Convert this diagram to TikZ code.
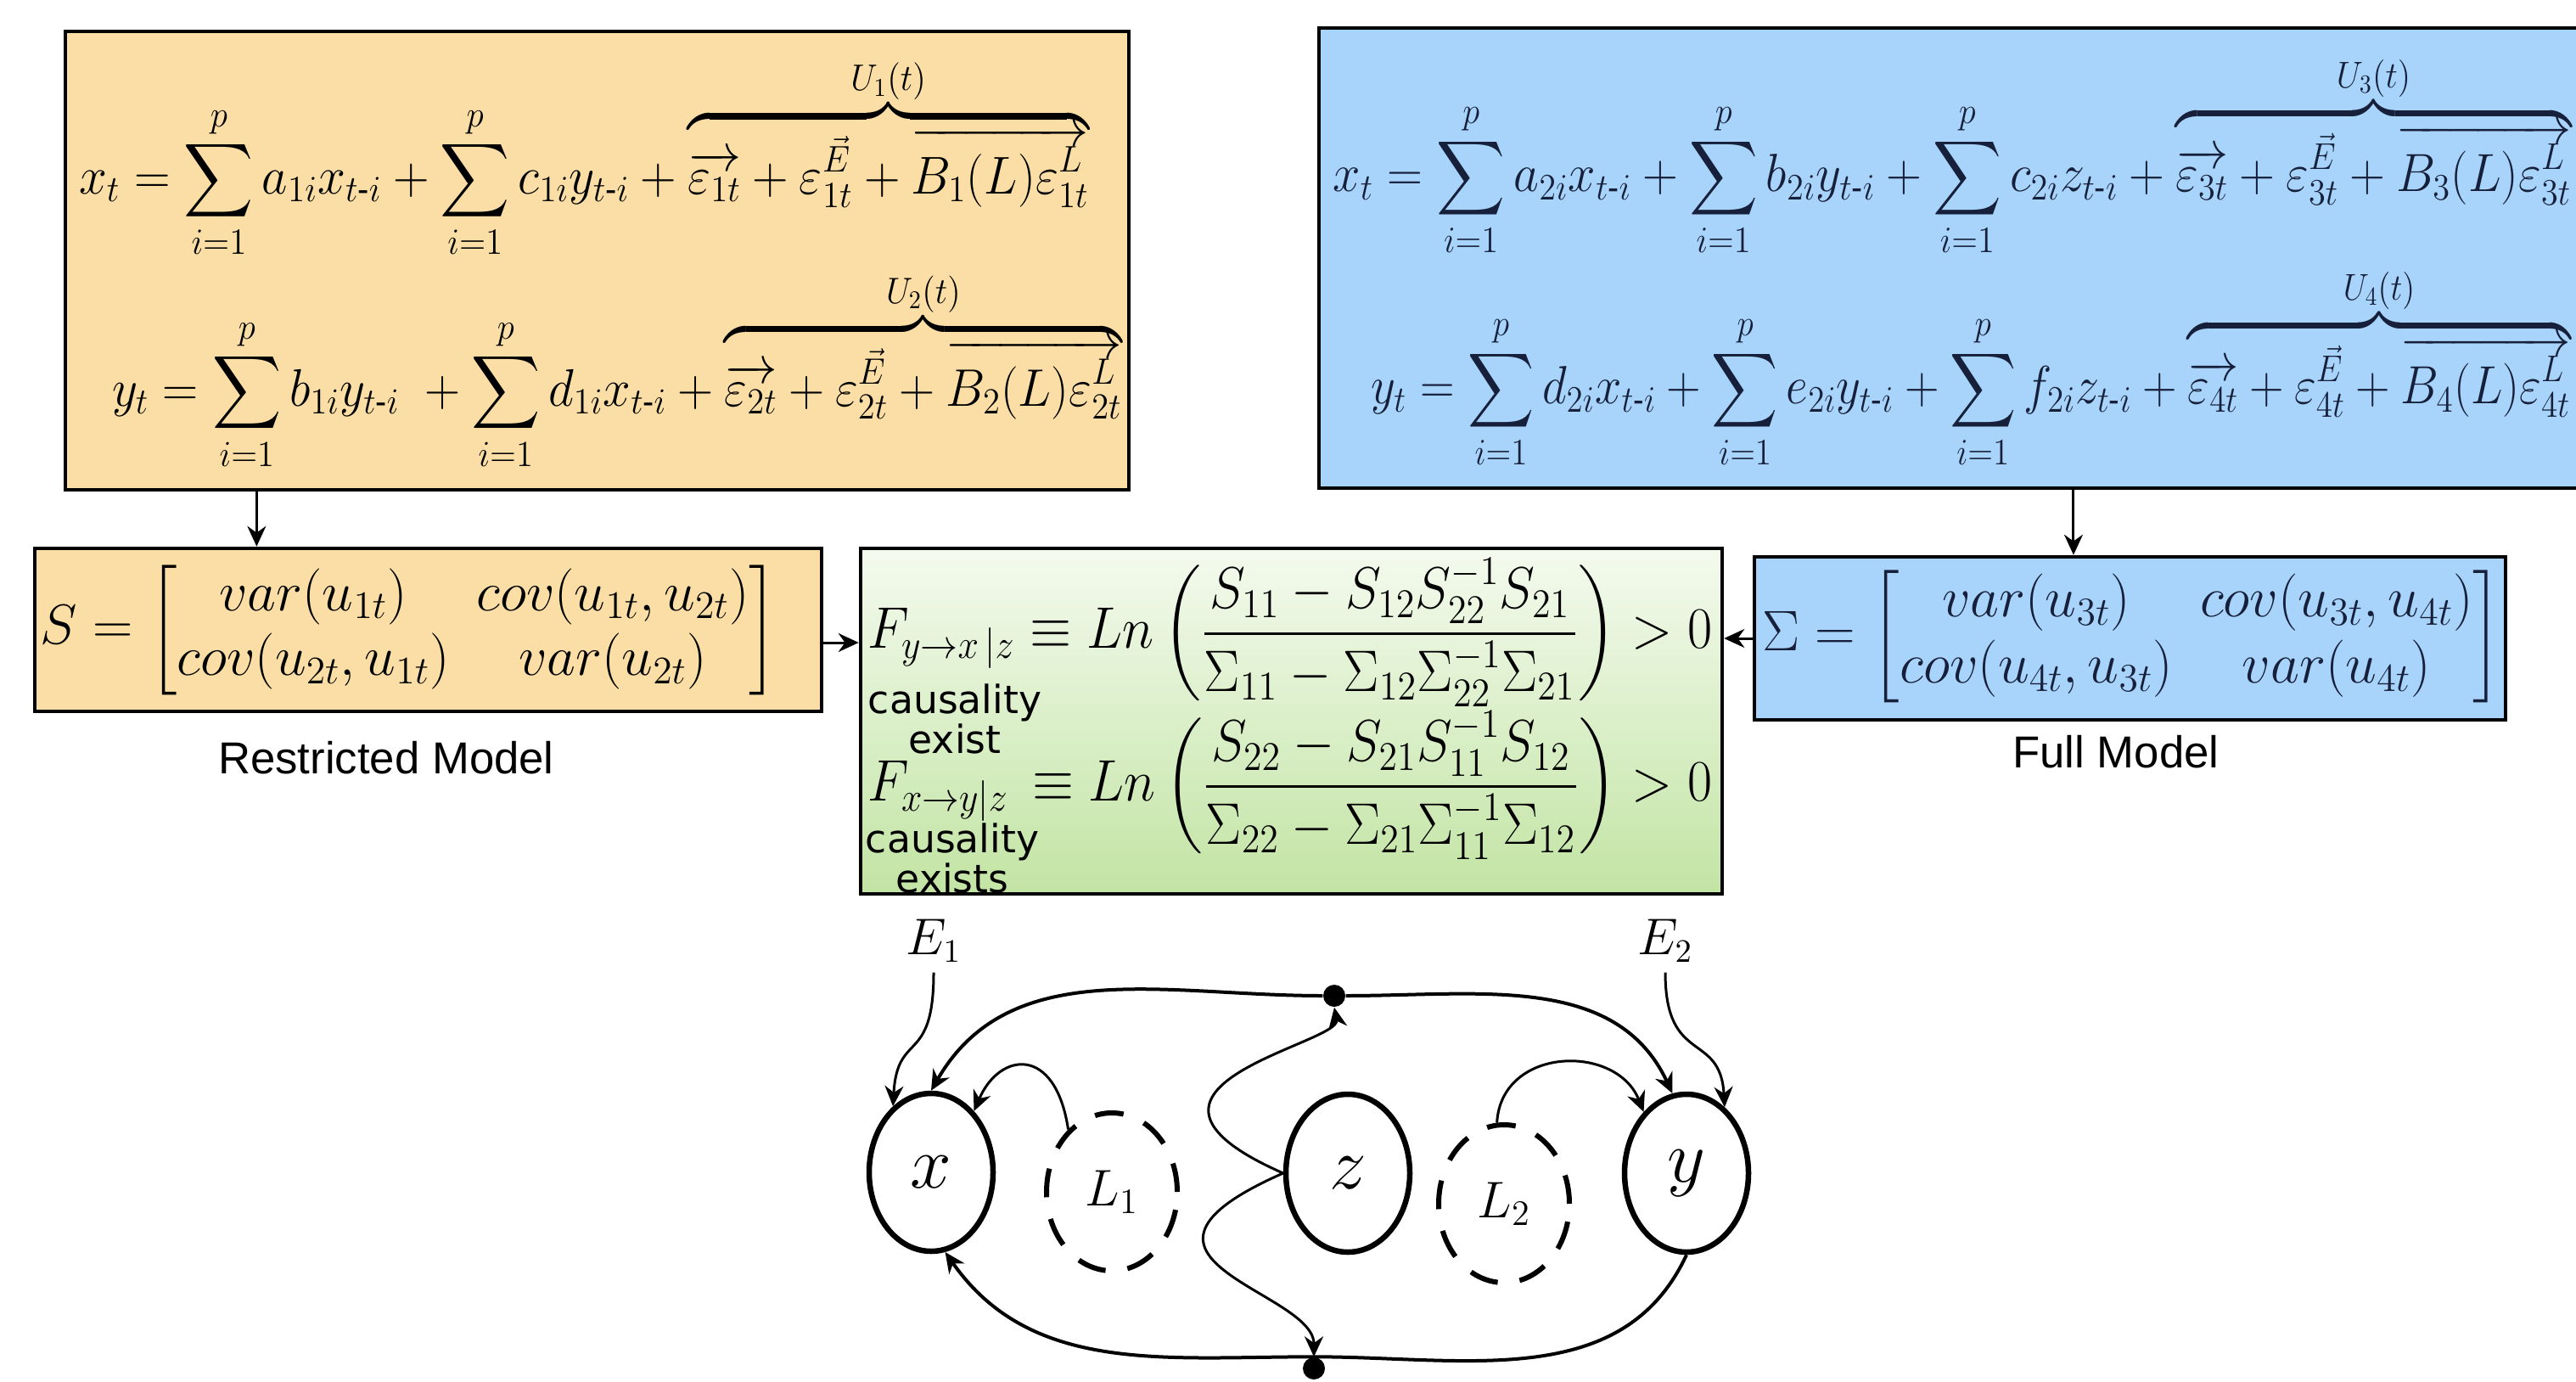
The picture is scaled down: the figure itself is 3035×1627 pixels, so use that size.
\documentclass[tikz,border=0pt]{standalone}
\usepackage{amsmath}
\usepackage{amssymb}
\usepackage{graphicx}
\usepackage[no-math]{fontspec}
\setmainfont{Liberation Sans}
\newfontfamily\labelfont{DejaVu Sans}
\usepackage{tikz}
\usetikzlibrary{
    positioning,
    shapes,
    arrows.meta,
    calc
}
\definecolor{restrictfill}{RGB}{251,222,165}
\definecolor{fullfill}{RGB}{168,211,250}
\definecolor{grangertop}{RGB}{244,250,238}
\definecolor{grangerbot}{RGB}{194,228,164}
\definecolor{fullink}{RGB}{22,32,58}
\tikzset{
    > = {Stealth[length=2.4mm, width=2.2mm]},
    modelbox/.style = {draw=black, line width=0.45mm, inner sep=0pt},
    eqnode/.style = {inner sep=0pt, font=\fontsize{20}{24}\selectfont},
    varnode/.style = {draw, ellipse, line width=0.65mm, inner sep=0pt,
        minimum width=14.6mm, minimum height=18.6mm, font=\fontsize{28}{28}\selectfont},
    latentnode/.style = {draw, ellipse, line width=0.6mm, inner sep=0pt,
        dash pattern=on 3.4mm off 2.6mm,
        minimum width=15.4mm, minimum height=18.6mm, font=\fontsize{17}{17}\selectfont},
    junction/.style = {circle, fill=black, inner sep=0pt, minimum size=2.6mm},
    link/.style = {->, line width=0.3mm},
    arc/.style = {line width=0.4mm},
}
\newcommand{\fitmath}[3]{\resizebox*{#1}{#2}{$\displaystyle #3$}}
\newcommand{\tlag}{t\text{-}i}

\begin{document}
\begin{tikzpicture}[x=0.1mm, y=-0.1mm]
\useasboundingbox (0,0) rectangle (3035,1627);
\clip (0,0) rectangle (3035,1627);
\fill[white] (0,0) rectangle (3035,1627);

% restricted model
\node[modelbox, fill=restrictfill, minimum width=125.3mm, minimum height=54mm] (restrictbox) at (703.5,307) {};
\node[eqnode] (eqxr) at (688,187) {\fitmath{119mm}{23.8mm}{x_t=\sum_{i=1}^{p}a_{1i}x_{\tlag}+\sum_{i=1}^{p}c_{1i}y_{\tlag}+\overbrace{\overrightarrow{\varepsilon_{1t}}+\varepsilon_{1t}^{\vec{E}}+\overrightarrow{B_1(L)\varepsilon_{1t}^{L}}}^{U_1(t)}}};
\node[eqnode] (eqyr) at (727,437) {\fitmath{119mm}{23.6mm}{y_t=\sum_{i=1}^{p}b_{1i}y_{\tlag}\;+\sum_{i=1}^{p}d_{1i}x_{\tlag}+\overbrace{\overrightarrow{\varepsilon_{2t}}+\varepsilon_{2t}^{\vec{E}}+\overrightarrow{B_2(L)\varepsilon_{2t}^{L}}}^{U_2(t)}}};

\node[modelbox, fill=restrictfill, minimum width=92.7mm, minimum height=19.2mm] (smatbox) at (504.5,742) {};
\node[eqnode] (smat) at (482,742) {\fitmath{86.8mm}{15.3mm}{S=\begin{bmatrix} var(u_{1t}) & cov(u_{1t},u_{2t})\\ cov(u_{2t},u_{1t}) & var(u_{2t})\end{bmatrix}}};
\node[font=\fontsize{15}{15}\selectfont] (restrictlabel) at (455,893) {Restricted Model};

% full model
\node[modelbox, fill=fullfill, minimum width=150.6mm, minimum height=54.2mm] (fullbox) at (2307,304) {};
\node[eqnode, text=fullink] (eqxf) at (2300,184) {\fitmath{145.9mm}{24mm}{x_t=\sum_{i=1}^{p}a_{2i}x_{\tlag}+\sum_{i=1}^{p}b_{2i}y_{\tlag}+\sum_{i=1}^{p}c_{2i}z_{\tlag}+\overbrace{\overrightarrow{\varepsilon_{3t}}+\varepsilon_{3t}^{\vec{E}}+\overrightarrow{B_3(L)\varepsilon_{3t}^{L}}}^{U_3(t)}}};
\node[eqnode, text=fullink] (eqyf) at (2322,434) {\fitmath{141.3mm}{24mm}{y_t=\sum_{i=1}^{p}d_{2i}x_{\tlag}+\sum_{i=1}^{p}e_{2i}y_{\tlag}+\sum_{i=1}^{p}f_{2i}z_{\tlag}+\overbrace{\overrightarrow{\varepsilon_{4t}}+\varepsilon_{4t}^{\vec{E}}+\overrightarrow{B_4(L)\varepsilon_{4t}^{L}}}^{U_4(t)}}};

\node[modelbox, fill=fullfill, minimum width=88.5mm, minimum height=19.2mm] (sigmabox) at (2509.5,752) {};
\node[eqnode, text=fullink] (sigmamat) at (2512,750) {\fitmath{87.1mm}{15.6mm}{\Sigma=\begin{bmatrix} var(u_{3t}) & cov(u_{3t},u_{4t})\\ cov(u_{4t},u_{3t}) & var(u_{4t})\end{bmatrix}}};
\node[font=\fontsize{15}{15}\selectfont] (fulllabel) at (2493,886) {Full Model};

% granger test
\node[modelbox, top color=grangertop, bottom color=grangerbot, minimum width=101.5mm, minimum height=40.7mm] (grangerbox) at (1521.5,849.5) {};
\node[eqnode] (fyx) at (1519.5,745) {\fitmath{99.5mm}{17.4mm}{F_{y\to x\,|z}\equiv Ln\left(\frac{S_{11}-S_{12}S_{22}^{-1}S_{21}}{\Sigma_{11}-\Sigma_{12}\Sigma_{22}^{-1}\Sigma_{21}}\right)>0}};
\node[eqnode] (fxy) at (1519.5,925) {\fitmath{99.5mm}{17.4mm}{F_{x\to y|z}\,\equiv Ln\left(\frac{S_{22}-S_{21}S_{11}^{-1}S_{12}}{\Sigma_{22}-\Sigma_{21}\Sigma_{11}^{-1}\Sigma_{12}}\right)>0}};
\node[align=center, inner sep=0pt, font=\labelfont\fontsize{13}{13.5}\selectfont] (causeyx) at (1125,847) {causality\\exist};
\node[align=center, inner sep=0pt, font=\labelfont\fontsize{13}{12}\selectfont] (causexy) at (1122,1011) {causality\\exists};

\draw[link] ($(restrictbox.south west)!0.181!(restrictbox.south east)$) coordinate (rdrop) -- (rdrop |- smatbox.north);
\draw[link] ($(fullbox.south west)!0.59!(fullbox.south east)$) coordinate (fdrop) -- (fdrop |- sigmabox.north);
\draw[link] ([yshift=-1.5mm]smatbox.east) -- ([yshift=-1.5mm]smatbox.east -| grangerbox.west);
\draw[link] (sigmabox.west) -- (sigmabox.west -| grangerbox.east);

% causal graph
\node[varnode] (xvar) at (1097,1381) {$x$};
\node[latentnode] (lat1) at (1310,1404) {$L_1$};
\node[varnode] (zvar) at (1588,1382) {$z$};
\node[latentnode] (lat2) at (1772,1418) {$L_2$};
\node[varnode] (yvar) at (1987,1382) {$y$};
\node[junction] (topjoin) at (1572,1173) {};
\node[junction] (botjoin) at (1548,1612) {};
\node[font=\fontsize{16}{16}\selectfont] (errx) at (1100,1108) {$E_1$};
\node[font=\fontsize{16}{16}\selectfont] (erry) at (1962,1108) {$E_2$};

\draw[link] (errx.south) .. controls +(0,110) and +(5,-90) .. (xvar.120);
\draw[link] (erry.south) .. controls +(0,110) and +(-5,-90) .. (yvar.60);
\draw[link, arc] (topjoin.west) to[out=180, in=60] (xvar.north);
\draw[link, arc] (topjoin.east) to[out=0, in=115] (yvar.100);
\draw[link] (zvar.west) .. controls (1280,1280) and (1580,1230) .. (topjoin.south);
\draw[link] (zvar.west) .. controls (1280,1484) and (1548,1520) .. (botjoin.north);
\draw[link, arc] (botjoin.north) to[out=180, in=-55] (xvar.-80);
\draw[arc] (yvar.south) to[out=-115, in=0] (botjoin.north);
\draw[link] (lat1.125) .. controls +(-15,-100) and +(30,-70) .. (xvar.55);
\draw[link] (lat2.95) .. controls +(5,-90) and +(-32,-81) .. (yvar.125);
\end{tikzpicture}
\end{document}
